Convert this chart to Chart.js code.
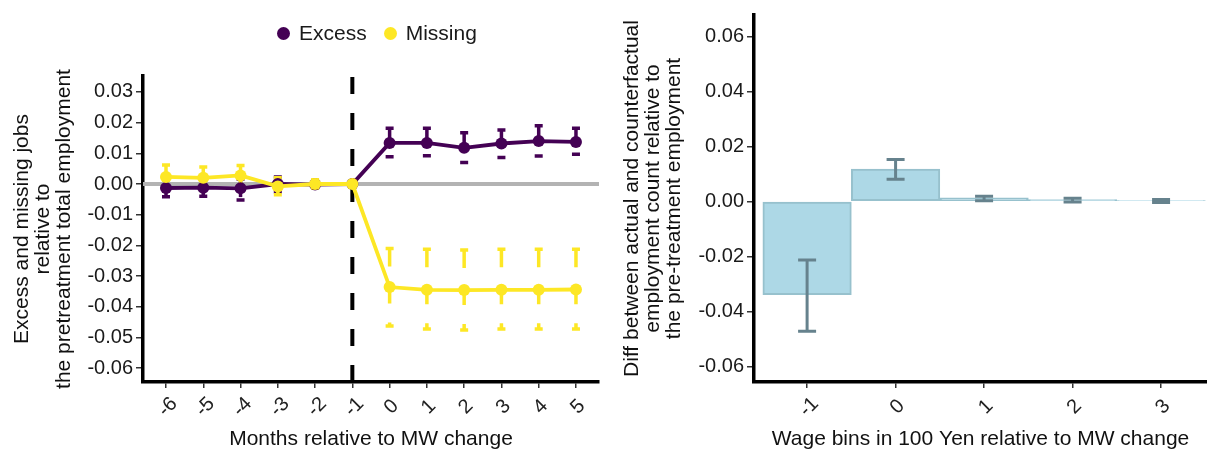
<!DOCTYPE html>
<html>
<head>
<meta charset="utf-8">
<script src="https://cdn.jsdelivr.net/npm/chart.js@4.4.1/dist/chart.umd.min.js"></script>
<style>
body{margin:0;background:#fff;width:1207px;height:452px;overflow:hidden;position:relative;font-family:"Liberation Sans",Arial,sans-serif}
#left{position:absolute;left:0;top:0;width:615px;height:452px}
#right{position:absolute;left:615px;top:0;width:592px;height:452px}
#legend{position:absolute;top:21px;left:277px;display:flex;align-items:center;font-size:21px;color:#1a1a1a}
.item{display:flex;align-items:center;margin-right:17px}
.dot{width:13px;height:13px;border-radius:50%;display:inline-block;margin-right:9px}
</style>
</head>
<body>
<div id="left"><canvas id="c1"></canvas></div>
<div id="right"><canvas id="c2"></canvas></div>
<div id="legend"></div>
<script>
// left panel: excess / missing jobs by month
const months = [-6,-5,-4,-3,-2,-1,0,1,2,3,4,5]
const monthLabels = ['-6','-5','-4','-3','-2','-1','0','1','2','3','4','5']
const excess     = [-0.0013,-0.0012,-0.0014, 0.0000,-0.0002,0.0000, 0.0134, 0.0134, 0.0118, 0.0132, 0.0140, 0.0137]
const excessLow  = [-0.0042,-0.0040,-0.0052,-0.0025,-0.0012,0.0000, 0.0089, 0.0092, 0.0070, 0.0086, 0.0091, 0.0097]
const excessHigh = [ 0.0014, 0.0015, 0.0016, 0.0023, 0.0008,0.0000, 0.0182, 0.0182, 0.0167, 0.0176, 0.0190, 0.0182]
const missing     = [0.0023, 0.0020, 0.0028,-0.0008, 0.0000,0.0000,-0.0336,-0.0345,-0.0346,-0.0345,-0.0345,-0.0344]
const missingLow  = [-0.0016,-0.0015,-0.0006,-0.0035,-0.0014,0.0000,-0.0463,-0.0473,-0.0476,-0.0473,-0.0473,-0.0473]
const missingHigh = [0.0062, 0.0055, 0.0060, 0.0020, 0.0014,0.0000,-0.0210,-0.0213,-0.0215,-0.0213,-0.0213,-0.0213]
const seriesNames = ['Excess','Missing']
const seriesColors = ['#440154','#FDE725']
const leftTicks = [-0.06,-0.05,-0.04,-0.03,-0.02,-0.01,0,0.01,0.02,0.03]

// right panel: wage bins
const wageBins = [-1,0,1,2,3]
const wageLabels = ['-1','0','1','2','3']
const diff     = [-0.0339, 0.0118, 0.0013, 0.0007, 0.0003]
const diffLow  = [-0.0472, 0.0081, 0.0003,-0.0002,-0.0004]
const diffHigh = [-0.0213, 0.0153, 0.0019, 0.0012, 0.0007]
const rightTicks = [-0.06,-0.04,-0.02,0,0.02,0.04,0.06]

const FAM = '"Liberation Sans", Arial, sans-serif'

// legend
let legend = document.getElementById('legend')
seriesNames.forEach((n,i)=>{
    let item = document.createElement('span')
    item.className = 'item'
    let dot = document.createElement('span')
    dot.className = 'dot'
    dot.style.background = seriesColors[i]
    item.appendChild(dot)
    item.appendChild(document.createTextNode(n))
    legend.appendChild(item)
})

function errorBars(chart, xs, lo, hi, color, capW, lw, dash){
    const {ctx, scales:{x,y}} = chart
    ctx.save()
    ctx.strokeStyle = color
    ctx.lineWidth = lw
    xs.forEach((v,i)=>{
        if (hi[i] <= lo[i]) return
        const px = x.getPixelForValue(v)
        const yt = y.getPixelForValue(hi[i])
        const yb = y.getPixelForValue(lo[i])
        ctx.setLineDash(dash || [])
        ctx.beginPath(); ctx.moveTo(px,yt); ctx.lineTo(px,yb); ctx.stroke()
        ctx.setLineDash([])
        ctx.beginPath()
        ctx.moveTo(px-capW/2,yt); ctx.lineTo(px+capW/2,yt)
        ctx.moveTo(px-capW/2,yb); ctx.lineTo(px+capW/2,yb)
        ctx.stroke()
    })
    ctx.restore()
}

function rotLabels(labels){
    return {
        id:'rotLabels',
        afterDraw(chart){
            const {ctx, scales:{x}} = chart
            ctx.save()
            ctx.font = '20px ' + FAM
            ctx.fillStyle = '#222'
            ctx.textAlign = 'center'
            ctx.textBaseline = 'middle'
            x.ticks.forEach((t,i)=>{
                ctx.save()
                ctx.translate(x.getPixelForValue(t.value)+2, x.top+25)
                ctx.rotate(-Math.PI/4)
                ctx.fillText(labels[i],0,0)
                ctx.restore()
            })
            ctx.restore()
        }
    }
}

const leftLines = {
    id:'leftLines',
    beforeDatasetsDraw(chart){
        const {ctx, chartArea:a, scales:{x,y}} = chart
        ctx.save()
        const y0 = y.getPixelForValue(0)
        ctx.strokeStyle = '#b3b3b3'
        ctx.lineWidth = 4
        ctx.beginPath(); ctx.moveTo(a.left,y0); ctx.lineTo(a.right,y0); ctx.stroke()
        const xv = x.getPixelForValue(-1)
        ctx.strokeStyle = '#000'
        ctx.setLineDash([17,19])
        ctx.beginPath(); ctx.moveTo(xv,a.bottom); ctx.lineTo(xv,a.top); ctx.stroke()
        ctx.restore()
        errorBars(chart, months, excessLow, excessHigh, seriesColors[0], 8, 3.5, [18,19])
        errorBars(chart, months, missingLow, missingHigh, seriesColors[1], 8, 3.5, [18,19])
    }
}

const rightBars = {
    id:'rightBars',
    afterDatasetsDraw(chart){
        errorBars(chart, wageBins, diffLow, diffHigh, '#66828d', 18, 3)
    }
}

function axisY(ticks, min, max, width, title, pad){
    return {
        min:min, max:max,
        afterBuildTicks: s => { s.ticks = ticks.map(v=>({value:v})) },
        afterFit: s => { s.width = width },
        ticks:{callback:v=>v.toFixed(2), font:{size:20,family:FAM}, color:'#1a1a1a', padding:3, autoSkip:false},
        grid:{drawOnChartArea:false, drawTicks:true, tickLength:7, color:'#333', lineWidth:1.5},
        border:{display:true, color:'#000', width:3.5},
        title:{display:true, text:title, color:'#111', font:{size:21,family:FAM,lineHeight:1.02}, padding:{top:pad,bottom:0}}
    }
}

function axisX(vals, min, max, title){
    return {
        type:'linear', min:min, max:max, offset:false,
        afterBuildTicks: s => { s.ticks = vals.map(v=>({value:v})) },
        afterFit: s => { s.height = 70 },
        ticks:{display:false},
        grid:{offset:false, drawOnChartArea:false, drawTicks:true, tickLength:6, color:'#333', lineWidth:1.5},
        border:{display:true, color:'#000', width:3.5},
        title:{display:true, text:title, color:'#111', font:{size:21,family:FAM}, padding:{top:0,bottom:0}}
    }
}

new Chart(document.getElementById('c1'), {
    type:'line',
    data:{
        datasets:[
            {label:seriesNames[1], data:months.map((m,i)=>({x:m,y:missing[i]})), borderColor:seriesColors[1], backgroundColor:seriesColors[1],
             borderWidth:3.8, pointRadius:6, pointBorderWidth:0, pointHoverRadius:6},
            {label:seriesNames[0], data:months.map((m,i)=>({x:m,y:excess[i]})), borderColor:seriesColors[0], backgroundColor:seriesColors[0],
             borderWidth:3.8, pointRadius:6, pointBorderWidth:0, pointHoverRadius:6}
        ]
    },
    options:{
        responsive:true, maintainAspectRatio:false, animation:false,
        layout:{padding:{top:76, right:16, left:0, bottom:0}},
        plugins:{legend:{display:false}, tooltip:{enabled:false}},
        scales:{
            x: axisX(months, -6.617, 5.618, 'Months relative to MW change'),
            y: axisY(leftTicks, -0.06456, 0.03521, 143,
                ['Excess and missing jobs','relative to','the pretreatment total employment'], 11)
        }
    },
    plugins:[leftLines, rotLabels(monthLabels)]
})

new Chart(document.getElementById('c2'), {
    type:'bar',
    data:{
        datasets:[{
            data:wageBins.map((b,i)=>({x:b,y:diff[i]})),
            backgroundColor:'#add8e6', borderColor:'#97c1cd', borderWidth:2, borderSkipped:false,
            barPercentage:1, categoryPercentage:1
        }]
    },
    options:{
        responsive:true, maintainAspectRatio:false, animation:false,
        layout:{padding:{top:8, right:0, left:0, bottom:0}},
        plugins:{legend:{display:false}, tooltip:{enabled:false}},
        scales:{
            x: axisX(wageBins, -1.6, 3.519, 'Wage bins in 100 Yen relative to MW change'),
            y: axisY(rightTicks, -0.06571, 0.06786, 139,
                ['Diff between actual and counterfactual','employment count relative to','the pre-treatment employment'], 6)
        }
    },
    plugins:[rightBars, rotLabels(wageLabels)]
})
</script>
</body>
</html>
